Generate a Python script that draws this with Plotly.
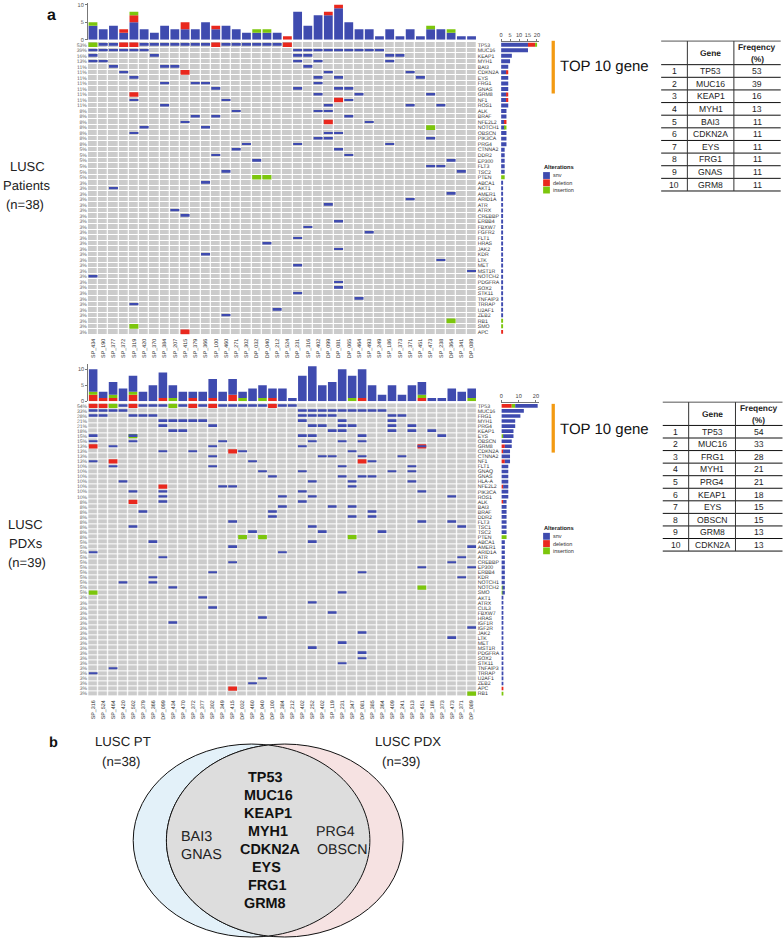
import numpy as np
import plotly.graph_objects as go

W, H = 784, 942
FONT = "Liberation Sans"
SNV, DEL, INS, CELL = "#3F4BAF", "#E9281E", "#7CC60C", "#CBCBCB"

# ---------- LUSC patients ----------
PT_SAMPLES = ["SP_434","SP_190","SP_377","SP_372","SP_319","SP_420","SP_370","SP_384","SP_207","SP_415",
              "SP_379","SP_366","SP_100","SP_460","SP_271","SP_302","DP_032","DP_040","SP_212","SP_524",
              "DP_231","SP_316","SP_402","DP_099","DP_081","DP_065","SP_464","SP_493","SP_249","SP_186",
              "SP_373","SP_371","SP_451","SP_473","SP_238","DP_364","SP_341","DP_089"]
PT_GENES = ["TP53","MUC16","KEAP1","MYH1","BAI3","CDKN2A","EYS","FRG1","GNAS","GRM8","NF1","ROS1","ALK","BRAF",
            "NFE2L2","NOTCH1","OBSCN","PIK3CA","PRG4","CTNNA2","DDR2","EP300","FLT3","TSC2","PTEN","ABCA1","AKT1",
            "AMER1","ARID1A","ATR","ATRX","CREBBP","ERBB4","FBXW7","FGFR2","FLT1","HRAS","JAK2","KDR","LTK","MET",
            "MST1R","NOTCH2","PDGFRA","SOX2","STK11","TNFAIP3","TRRAP","U2AF1","ZEB2","RB1","SMO","APC"]
PT_PCT = [53,39,16,13,11,11,11,11,11,11,11,11,8,8,8,8,8,8,8,5,5,5,5,5,5,
          3,3,3,3,3,3,3,3,3,3,3,3,3,3,3,3,3,3,3,3,3,3,3,3,3,3,3,3]
PT_SNV = {"TP53":[1,2,5,6,7,8,9,10,11,13,14,15,16,17,18],
          "MUC16":[0,1,2,3,4,5,20,21,22,23,24,25,26,27,28],
          "KEAP1":[0,6,20,21,29,30],"MYH1":[0,1,20,22,29],"BAI3":[2,7,8,21],"CDKN2A":[3,23,31],
          "EYS":[4,22,24,32],"FRG1":[7,10,11,22],"GNAS":[12,20,24,25],"GRM8":[22,26,33],"NF1":[4,13,25],
          "ROS1":[7,23,31,34],"ALK":[14,22,23],"BRAF":[10,12,25],"NFE2L2":[9,27],"NOTCH1":[5,11],
          "OBSCN":[4,23,24],"PIK3CA":[22,23,33],"PRG4":[15,20,29],"CTNNA2":[14,24],"DDR2":[12,25],
          "EP300":[16,35],"FLT3":[33,34],"TSC2":[13,36],"ABCA1":[11],"AKT1":[2],"AMER1":[35],"ARID1A":[31],
          "ATR":[23],"ATRX":[8],"CREBBP":[9],"ERBB4":[24],"FBXW7":[21],"FGFR2":[27],"FLT1":[20],"HRAS":[17],
          "JAK2":[24],"KDR":[11],"LTK":[34],"MET":[20],"MST1R":[37],"NOTCH2":[0],"PDGFRA":[24],"SOX2":[24],
          "STK11":[20],"TNFAIP3":[26],"TRRAP":[4],"U2AF1":[18],"ZEB2":[13]}
PT_DEL = {"TP53":[3,4,12,19],"CDKN2A":[9],"GRM8":[4],"NF1":[24],"NFE2L2":[23],"APC":[9]}
PT_INS = {"TP53":[0],"NOTCH1":[33],"PTEN":[16,17],"RB1":[35],"SMO":[4]}
PT_TOP_SNV = [4,3,4,2,5,3,2,4,3,3,3,5,3,4,3,2,2,2,2,0,8,4,7,7,9,5,3,3,1,3,1,3,1,3,3,2,1,1]
PT_TOP_DEL = [0,0,0,1,2,0,0,0,0,2,0,0,1,0,0,0,0,0,0,1,0,0,0,1,1,0,0,0,0,0,0,0,0,0,0,0,0,0]
PT_TOP_INS = [1,0,0,0,1,0,0,0,0,0,0,0,0,0,0,0,1,1,0,0,0,0,0,0,0,0,0,0,0,0,0,0,0,1,0,1,0,0]
PT_TABLE_GENES = ["TP53","MUC16","KEAP1","MYH1","BAI3","CDKN2A","EYS","FRG1","GNAS","GRM8"]
PT_TABLE_FREQ = [53,39,16,13,11,11,11,11,11,11]

# ---------- LUSC PDXs ----------
PDX_SAMPLES = ["SP_316","SP_524","SP_464","SP_420","SP_502","SP_379","SP_366","DP_099","SP_434","SP_470",
               "SP_372","SP_377","SP_302","SP_349","SP_415","DP_032","SP_460","DP_040","DP_100","SP_384",
               "SP_212","SP_402","SP_252","SP_402","SP_119","SP_231","SP_347","DP_081","SP_385","SP_364",
               "SP_409","SP_241","SP_513","SP_451","SP_186","SP_373","SP_473","SP_371","DP_089"]
PDX_GENES = ["TP53","MUC16","FRG1","MYH1","PRG4","KEAP1","EYS","OBSCN","GRM8","CDKN2A","CTNNA2","NF1","FLT1","GNAQ",
             "GNAS","HLA-A","NFE2L2","PIK3CA","ROS1","ALK","BAI3","BRAF","DDR2","FLT3","TSC1","TSC2","PTEN","ABCA1",
             "AMER1","ARID1A","ATR","CREBBP","EP300","ERBB4","KDR","NOTCH1","NOTCH2","SMO","AKT1","ATRX","CUL3",
             "FBXW7","HRAS","IGF1R","IGF2R","JAK2","LTK","MET","MST1R","PDGFRA","SOX2","STK11","TNFAIP3","TRRAP",
             "U2AF1","ZEB2","APC","RB1"]
PDX_PCT = [54,33,28,21,21,18,15,15,13,13,13,13,10,10,10,10,10,10,10,8,8,8,8,8,8,8,8,
           5,5,5,5,5,5,5,5,5,5,5,3,3,3,3,3,3,3,3,3,3,3,3,3,3,3,3,3,3,3,3]
PDX_SNV = {"TP53":[3,5,6,7,9,11,13,14,15,16,17,19,20],
           "MUC16":[0,1,2,3,21,22,23,24,25,26,27,28,29],
           "FRG1":[0,1,4,5,6,21,22,23,24,30,31],"MYH1":[7,8,9,10,11,21,25,30],
           "PRG4":[7,12,22,23,25,26,30,32],"KEAP1":[8,9,24,25,30,32,34],"EYS":[0,4,21,22,27,35],
           "OBSCN":[0,4,13,22,25,27],"GRM8":[2,12,21,33],"CDKN2A":[7,10,15,26],"CTNNA2":[12,23,24,27,31],
           "NF1":[0,16,28],"FLT1":[2,12,25,32],"GNAQ":[17,21,30,32],"GNAS":[18,25,27,28],"HLA-A":[3,22,26,32],
           "NFE2L2":[13,14,26],"PIK3CA":[4,7,21,33],"ROS1":[7,19,22,36],"ALK":[7,21],"BAI3":[19,24,26],
           "BRAF":[5,18,28],"DDR2":[18,26,28],"FLT3":[14,33,36],"TSC1":[4,22,37],"TSC2":[16,23,29],
           "ABCA1":[6,22],"AMER1":[14,38],"ARID1A":[0,19],"ATR":[7,37],"CREBBP":[14,36],"EP300":[33,38],
           "ERBB4":[12,27],"KDR":[6,37],"NOTCH1":[3,6],"NOTCH2":[8],"SMO":[25],"AKT1":[11],"ATRX":[22],
           "CUL3":[12],"FBXW7":[24],"HRAS":[17],"IGF1R":[8],"IGF2R":[38],"JAK2":[27],"LTK":[36],"MET":[25],
           "MST1R":[22],"PDGFRA":[27],"SOX2":[27],"STK11":[25],"TNFAIP3":[2],"TRRAP":[0],"U2AF1":[17],"ZEB2":[16]}
PDX_DEL = {"TP53":[0,1,4,10,12,18],"GRM8":[0,33],"CDKN2A":[14],"NF1":[2,27],"NFE2L2":[7],"ALK":[4],"APC":[14]}
PDX_INS = {"TP53":[2,8],"EYS":[4],"PTEN":[15,17,26],"NOTCH2":[33],"SMO":[0],"RB1":[38]}
PDX_TOP_SNV = [7,2,4,4,5,3,5,8,4,3,2,3,6,3,5,2,4,4,3,4,1,8,11,5,6,10,7,9,5,2,5,2,5,4,1,1,4,3,3]
PDX_TOP_DEL = [2,1,1,0,2,0,0,1,0,0,1,0,1,0,2,0,0,0,1,0,0,0,0,0,0,0,0,1,0,0,0,0,0,1,0,0,0,0,0]
PDX_TOP_INS = [1,0,1,0,1,0,0,0,1,0,0,0,0,0,0,1,0,1,0,0,0,0,0,0,0,0,1,0,0,0,0,0,0,1,0,0,0,0,1]
PDX_TABLE_GENES = ["TP53","MUC16","FRG1","MYH1","PRG4","KEAP1","EYS","OBSCN","GRM8","CDKN2A"]
PDX_TABLE_FREQ = [54,33,28,21,21,18,15,15,13,13]

VENN_SHARED = ["TP53","MUC16","KEAP1","MYH1","CDKN2A","EYS","FRG1","GRM8"]
VENN_PT_ONLY = ["BAI3","GNAS"]
VENN_PDX_ONLY = ["PRG4","OBSCN"]


def fx(p): return p / W
def fy(p): return 1 - p / H

fig = go.Figure()
layout = dict(
    width=W, height=H, margin=dict(l=0, r=0, t=0, b=0, pad=0), showlegend=False,
    paper_bgcolor="white", plot_bgcolor="white", barmode="overlay", hovermode=False,
    font=dict(family=FONT, color="#333"),
)
shapes, annos = [], []


def text(x, y, s, size, anchor="center", bold=False, color="#222"):
    annos.append(dict(x=fx(x), y=fy(y), xref="paper", yref="paper", text=f"<b>{s}</b>" if bold else s,
                      showarrow=False, xanchor=anchor, yanchor="middle", borderpad=0,
                      font=dict(size=size, family=FONT, color=color)))


def rect(x0, y0, x1, y1, fill):
    shapes.append(dict(type="rect", xref="paper", yref="paper", x0=fx(x0), x1=fx(x1), y0=fy(y0), y1=fy(y1),
                       fillcolor=fill, line=dict(width=0), layer="above"))


def hline(x0, x1, y, color="#111", w=1):
    shapes.append(dict(type="line", xref="paper", yref="paper", x0=fx(x0), x1=fx(x1), y0=fy(y), y1=fy(y),
                       line=dict(color=color, width=w)))


def vline(x, y0, y1, color="#333", w=1):
    shapes.append(dict(type="line", xref="paper", yref="paper", x0=fx(x), x1=fx(x), y0=fy(y0), y1=fy(y1),
                       line=dict(color=color, width=w)))


def panel(k, samples, genes, pct, snv, dele, ins, top_s, top_d, top_i, right_order, box, top_box, right_box, top_range,
          right_range, right_ticks):
    n, m = len(genes), len(samples)
    X, Y1, Y2 = 1 + 3 * k, 1 + 4 * k, 2 + 4 * k
    Xt, Yt = 2 + 3 * k, 3 + 4 * k
    Xr, Yr = 3 + 3 * k, 4 + 4 * k
    name = lambda a, i: f"{a}axis{i if i > 1 else ''}"
    ref = lambda a, i: f"{a}{i if i > 1 else ''}"
    l, r, t, b = box
    xrange_ = [-0.5, m - 0.5]
    yrange = [n - 0.5, -0.5]
    gray_tick = dict(size=5.1, color="#666", family=FONT)

    layout[name("x", X)] = dict(domain=[fx(l), fx(r)], range=xrange_, anchor=ref("y", Y1), showgrid=False,
                                zeroline=False, tickmode="array", tickvals=list(range(m)), ticktext=samples,
                                tickangle=-90, ticklen=0, tickfont=dict(size=5.4, color="#333", family=FONT),
                                ticklabelstandoff=2)
    layout[name("y", Y1)] = dict(domain=[fy(b), fy(t)], range=yrange, anchor=ref("x", X), side="right", showgrid=False,
                                 zeroline=False, tickmode="array", tickvals=list(range(n)), ticktext=genes, ticklen=0,
                                 tickfont=dict(size=5.2, color="#333", family=FONT))
    layout[name("y", Y2)] = dict(domain=[fy(b), fy(t)], range=yrange, anchor=ref("x", X), overlaying=ref("y", Y1),
                                 side="left", showgrid=False, zeroline=False, tickmode="array",
                                 tickvals=list(range(n)), ticktext=[f"{p}%" for p in pct], ticklen=0,
                                 tickfont=gray_tick)
    # grey background of the oncoprint
    fig.add_trace(go.Heatmap(z=np.zeros((n, m)), x=list(range(m)), y=list(range(n)), zmin=0, zmax=1,
                             colorscale=[[0, CELL], [1, CELL]], showscale=False, xgap=1.2, ygap=1,
                             xaxis=ref("x", X), yaxis=ref("y", Y1)))

    # alterations
    def cells(d, h, colour):
        xs, ys = [], []
        for g, cols in d.items():
            for c in cols:
                xs.append(c)
                ys.append(genes.index(g))
        ys = np.array(ys, dtype=float)
        fig.add_trace(go.Bar(x=xs, y=[h] * len(xs), base=ys - h / 2, width=0.88, marker=dict(color=colour, line=dict(width=0)),
                             xaxis=ref("x", X), yaxis=ref("y", Y2)))

    cells(dele, 0.84, DEL)
    cells(ins, 0.84, INS)
    cells(snv, 0.34, SNV)

    # top stacked bars
    lt, rt, tt, bt = top_box
    layout[name("x", Xt)] = dict(domain=[fx(lt), fx(rt)], range=xrange_, anchor=ref("y", Yt), visible=False)
    layout[name("y", Yt)] = dict(domain=[fy(bt), fy(tt)], range=top_range, anchor=ref("x", Xt), showgrid=False,
                                 zeroline=False, showline=True, linecolor="#777", linewidth=0.8, ticks="outside",
                                 ticklen=2, tickwidth=0.7, tickcolor="#777", tickvals=[0, 5, 10],
                                 ticklabeloverflow="allow",
                                 tickfont=dict(size=5.6, color="#555", family=FONT))
    series = {"s": (top_s, SNV), "d": (top_d, DEL), "i": (top_i, INS)}
    base = np.zeros(m)
    for key in right_order:
        vals, colour = series[key]
        vals = np.array(vals, dtype=float)
        fig.add_trace(go.Bar(x=list(range(m)), y=vals, base=base.copy(), width=0.86,
                             marker=dict(color=colour, line=dict(width=0)), xaxis=ref("x", Xt), yaxis=ref("y", Yt)))
        base += vals

    # right stacked bars, counted from the oncoprint
    lr, rr = right_box
    layout[name("x", Xr)] = dict(domain=[fx(lr), fx(rr)], range=right_range, anchor=ref("y", Yr), side="top",
                                 showgrid=False, zeroline=False, showline=True, linecolor="#777", linewidth=0.8,
                                 ticks="outside", ticklen=2, tickwidth=0.7, tickcolor="#777", tickvals=right_ticks,
                                 tickfont=dict(size=5.6, color="#444", family=FONT))
    layout[name("y", Yr)] = dict(domain=[fy(b), fy(t)], range=yrange, anchor=ref("x", Xr), visible=False)
    cnt = {"s": (snv, SNV), "d": (dele, DEL), "i": (ins, INS)}
    base = np.zeros(n)
    for key in right_order:
        d, colour = cnt[key]
        vals = np.array([len(d.get(g, [])) for g in genes], dtype=float)
        fig.add_trace(go.Bar(y=list(range(n)), x=vals, base=base.copy(), orientation="h", width=0.72,
                             marker=dict(color=colour, line=dict(width=0)), xaxis=ref("x", Xr), yaxis=ref("y", Yr)))
        base += vals


panel(0, PT_SAMPLES, PT_GENES, PT_PCT, PT_SNV, PT_DEL, PT_INS, PT_TOP_SNV, PT_TOP_DEL, PT_TOP_INS, "sdi",
      (86.2, 476.5, 40.2, 334.4), (86.2, 476.5, 1.5, 38), (501, 538.8), [0, 10.34], [0, 21], [0, 5, 10, 15, 20])
panel(1, PDX_SAMPLES, PDX_GENES, PDX_PCT, PDX_SNV, PDX_DEL, PDX_INS, PDX_TOP_SNV, PDX_TOP_DEL, PDX_TOP_INS, "dis",
      (86.5, 476.5, 403.5, 697.8), (86.5, 476.5, 364, 401.3), (501.3, 538.6), [0, 11.66], [0, 21.5], [0, 10, 20])


# ---------- tables ----------
def table(genes, freq, x0, x1, xa, xb, top, head_bottom, row_h):
    hline(x0, x1, top, "#555")
    n = len(genes)
    for i in range(n + 1):
        hline(x0, x1, head_bottom + i * row_h)
    bottom = head_bottom + n * row_h
    vline(xa, top, bottom)
    vline(xb, top, bottom)
    cx0, cx1, cx2 = (x0 + xa) / 2, (xa + xb) / 2, (xb + x1) / 2
    text(cx1, (top + head_bottom) / 2, "Gene", 8.4, bold=True)
    text(cx2, (top + head_bottom) / 2 - 5.6, "Freqency", 8.4, bold=True)
    text(cx2, (top + head_bottom) / 2 + 5.8, "(%)", 8.4, bold=True)
    for i, (g, f) in enumerate(zip(genes, freq)):
        yc = head_bottom + (i + 0.5) * row_h
        text(cx0, yc, str(i + 1), 8.6)
        text(cx1, yc, g, 8.6)
        text(cx2, yc, str(f), 8.6)


table(PT_TABLE_GENES, PT_TABLE_FREQ, 661.7, 781.7, 688, 734.7, 39.3, 63, 12.7)
table(PDX_TABLE_GENES, PDX_TABLE_FREQ, 663.3, 783.5, 689.3, 736.3, 402.3, 425.7, 12.63)


# ---------- side annotations ----------
for ytop in (39, 404):
    rect(551.7, ytop, 555, ytop + (53 if ytop == 39 else 49), "#F39A12")
text(559, 64, "TOP 10 gene", 15, anchor="left", color="#111")
text(559, 429, "TOP 10 gene", 15, anchor="left", color="#111")

for y0, title_y in ((171, 166), (533.7, 528.7)):
    text(543, title_y, "Alterations", 5.7, anchor="left", bold=True, color="#222")
    for i, (lab, col) in enumerate((("snv", SNV), ("deletion", DEL), ("insertion", INS))):
        rect(543.2, y0 + i * 7.3, 550, y0 + i * 7.3 + 6.9, col)
        text(552.5, y0 + i * 7.3 + 3.4, lab, 5.5, anchor="left", color="#333")

text(49.5, 12.5, "a", 16, bold=True, color="#111")
text(25.5, 165, "LUSC", 13)
text(24.5, 184, "Patients", 13)
text(23, 204, "(n=38)", 13)
text(24, 525, "LUSC", 13)
text(24, 544, "PDXs", 13)
text(25, 563, "(n=39)", 13)

# ---------- Venn ----------
cy, ry, rx = 843, 97, 118.8
c1, c2 = 250.5, 283.85


def ell(cx, x0_fill):
    shapes.append(dict(type="circle", xref="paper", yref="paper", x0=fx(cx - rx), x1=fx(cx + rx), y0=fy(cy + ry),
                       y1=fy(cy - ry), fillcolor=x0_fill, line=dict(color="#111", width=1), layer="below"))


ell(c1, "#E3F1F9")
ell(c2, "#F6E2E2")
half = (c2 - c1) / 2
a0 = np.arcsin(np.sqrt(1 - (half / rx) ** 2))
t = np.linspace(-a0, a0, 70)
xs = np.concatenate([c1 + rx * np.cos(t), c2 - rx * np.cos(t[::-1])])
ys = np.concatenate([cy + ry * np.sin(t), cy + ry * np.sin(t[::-1])])
path = "M " + " L ".join(f"{fx(a):.5f} {fy(b):.5f}" for a, b in zip(xs, ys)) + " Z"
shapes.append(dict(type="path", xref="paper", yref="paper", path=path, fillcolor="#DDDDDD",
                   line=dict(color="#111", width=1), layer="below"))

text(52, 744, "b", 14.5, bold=True, color="#111")
text(121.5, 743, "LUSC PT", 13.2)
text(120, 764, "(n=38)", 13.2)
text(408, 743, "LUSC PDX", 13.2)
text(401.5, 764, "(n=39)", 13.2)
for g, x, y in zip(VENN_SHARED, (264, 267.7, 266.7, 266.7, 269.3, 265.7, 265.7, 264),
                   (779.3, 797.3, 815.3, 833.7, 852, 870, 888, 906)):
    text(x, y, g, 14.4, bold=True, color="#111")
for g, y in zip(VENN_PT_ONLY, (838.3, 856.7)):
    text(178.3, y, g, 14.4, anchor="left")
for g, x, y in zip(VENN_PDX_ONLY, (314, 315), (833.7, 851.7)):
    text(x, y, g, 14.2, anchor="left")

layout["shapes"] = shapes
layout["annotations"] = annos
fig.update_layout(**layout)
POST = """
document.body.style.margin='0';
document.documentElement.style.overflow='hidden';
var s=document.createElement('style');
s.textContent='svg text{text-rendering:geometricPrecision !important}';
document.head.appendChild(s);
"""
fig.write_html("out.html", config=dict(displayModeBar=False), post_script=POST)
